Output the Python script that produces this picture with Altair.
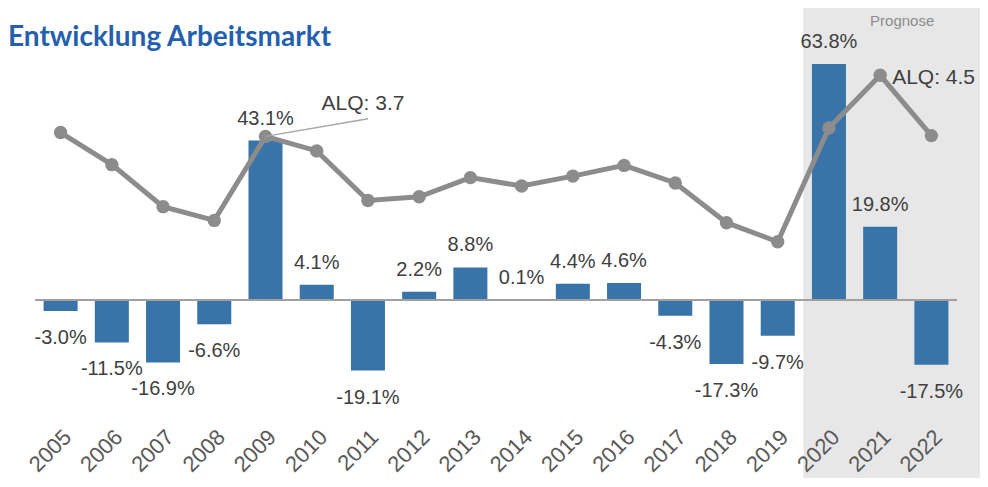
import altair as alt
import pandas as pd

years = [str(y) for y in range(2005, 2023)]
growth = [-3.0, -11.5, -16.9, -6.6, 43.1, 4.1, -19.1, 2.2, 8.8, 0.1,
          4.4, 4.6, -4.3, -17.3, -9.7, 63.8, 19.8, -17.5]
alq = [3.75, 3.33, 2.78, 2.60, 3.70, 3.51, 2.86, 2.91, 3.16, 3.05,
       3.18, 3.32, 3.09, 2.57, 2.32, 3.81, 4.50, 3.71]

forecast_start = ["2020"]
forecast_text_year = ["2021"]
forecast_text = ["Prognose"]

leader_years = ["2009", "2011"]
leader_vals = [3.70, 3.93]
note1_year = ["2011"]
note1_val = [3.93]
note1_text = ["ALQ: 3.7"]
note2_year = ["2021"]
note2_val = [4.50]
note2_text = ["ALQ: 4.5"]

W, H = 922, 359
FONT = "Liberation Sans"

df = pd.DataFrame({"year": years, "growth": growth, "alq": alq})
df["label"] = [f"{v:.1f}%" for v in growth]

xscale = alt.Scale(domain=years, paddingInner=0, paddingOuter=0)
xaxis = alt.Axis(title=None, labelAngle=-45, labelFontSize=22, labelColor="#595959",
                 labelFont=FONT, ticks=False, domain=False, grid=False, labelPadding=7)
xenc = alt.X("year:N", scale=xscale, sort=years, axis=xaxis)

bar_scale = alt.Scale(domain=[-32.2, 64.9], nice=False, zero=False)
line_scale = alt.Scale(domain=[0, 4.7], nice=False, zero=False)
ybar = alt.Y("growth:Q", scale=bar_scale, axis=None)
yl = alt.Y("alq:Q", scale=line_scale, axis=None)

# forecast shading
shade = alt.Chart(pd.DataFrame({"year": forecast_start})).mark_rect(color="#e7e7e7").encode(
    x=alt.X("year:N", scale=xscale, sort=years, axis=xaxis, bandPosition=0),
    x2=alt.value(W + 40),
    y=alt.value(-52),
    y2=alt.value(H + 80),
)
prog = alt.Chart(pd.DataFrame({"year": forecast_text_year, "t": forecast_text})).mark_text(
    font=FONT, fontSize=15, color="#8c8c8c", dx=22, baseline="middle"
).encode(x=xenc, y=alt.value(-39), text="t:N")

bars = alt.Chart(df).mark_bar(color="#3874a8", width=alt.RelativeBandSize(0.664)).encode(x=xenc, y=ybar)
zero = alt.Chart(df).mark_rule(color="#a0a0a0", strokeWidth=2).encode(
    y=alt.Y(datum=0, scale=bar_scale, axis=None))
pos_lab = alt.Chart(df).transform_filter("datum.growth >= 0").mark_text(
    font=FONT, fontSize=20, color="#404040", baseline="alphabetic", dy=-16
).encode(x=xenc, y=ybar, text="label:N")
neg_lab = alt.Chart(df).transform_filter("datum.growth < 0").mark_text(
    font=FONT, fontSize=20, color="#404040", baseline="top", dy=17
).encode(x=xenc, y=ybar, text="label:N")

line = alt.Chart(df).mark_line(color="#8c8c8c", strokeWidth=5).encode(x=xenc, y=yl)
pts = alt.Chart(df).mark_circle(color="#8c8c8c", opacity=1, size=180).encode(x=xenc, y=yl)
leader = alt.Chart(pd.DataFrame({"year": leader_years, "alq": leader_vals})).mark_line(
    color="#a6a6a6", strokeWidth=1.5).encode(x=xenc, y=yl)
note1 = alt.Chart(pd.DataFrame({"year": note1_year, "alq": note1_val, "t": note1_text})).mark_text(
    font=FONT, fontSize=21, color="#404040", align="center", baseline="alphabetic", dx=-5, dy=-9
).encode(x=xenc, y=yl, text="t:N")
note2 = alt.Chart(pd.DataFrame({"year": note2_year, "alq": note2_val, "t": note2_text})).mark_text(
    font=FONT, fontSize=21, color="#404040", align="left", baseline="alphabetic", dx=12, dy=9
).encode(x=xenc, y=yl, text="t:N")

chart = alt.layer(shade, prog, bars, zero, pos_lab, neg_lab, line, pts, leader, note1, note2
                  ).resolve_scale(y="independent").properties(
    width=W, height=H,
    title=alt.TitleParams("Entwicklung Arbeitsmarkt", anchor="start", frame="group", font="Lato",
                          fontSize=28, fontWeight="bold", color="#2560ae", dx=-27, offset=10,
                          dy=76, baseline="alphabetic"),
    autosize=alt.AutoSizeParams(type="none"),
    padding={"left": 27, "top": 52, "right": 23, "bottom": 59},
).configure_view(stroke=None)

chart.save("out.html", embed_options={"renderer": "svg", "actions": False})
